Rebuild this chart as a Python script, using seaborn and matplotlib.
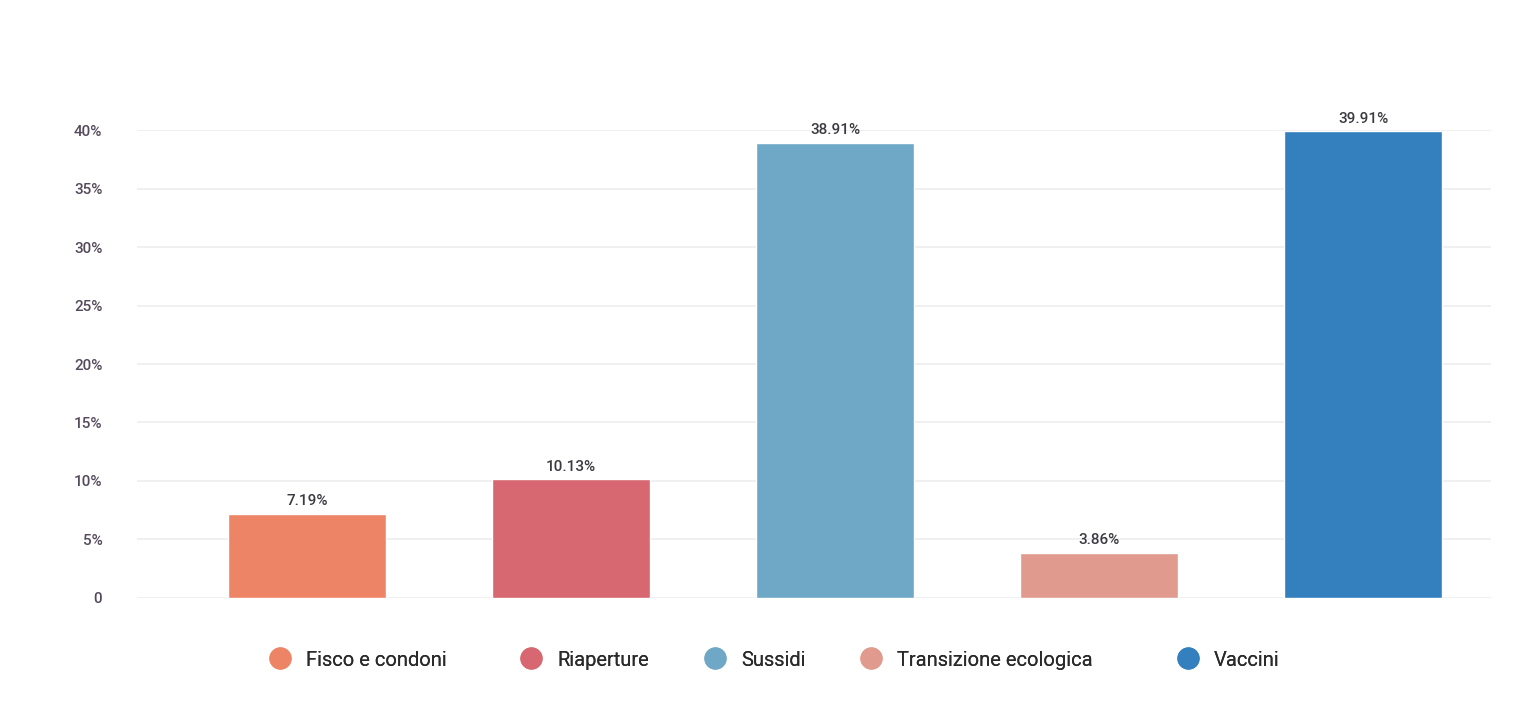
import pandas as pd
import seaborn as sns
import matplotlib.pyplot as plt
from matplotlib.lines import Line2D

categories = ['Fisco e condoni', 'Riaperture', 'Sussidi', 'Transizione ecologica', 'Vaccini']
values = [7.19, 10.13, 38.91, 3.86, 39.91]
colors = ['#ee8466', '#d76871', '#6fa8c6', '#e09a8e', '#347fbd']
yticks = [0, 5, 10, 15, 20, 25, 30, 35, 40]
ytick_labels = ['0', '5%', '10%', '15%', '20%', '25%', '30%', '35%', '40%']
# legend marker centres, in pixels from the left
legend_x = [280, 531, 715, 871, 1188]

df = pd.DataFrame({'cat': categories, 'val': values})

sns.set_style('white')
plt.rcParams['font.family'] = ['Roboto', 'DejaVu Sans']

W, H = 1534, 728
fig = plt.figure(figsize=(W / 100, H / 100), dpi=100)
ax = fig.add_axes([0.0893, 0.1786, 0.8827, 0.6428])

sns.barplot(data=df, x='cat', y='val', hue='cat', palette=colors, width=0.6,
            dodge=False, legend=False, saturation=1, ax=ax)

for c in ax.containers:
    ax.bar_label(c, fmt='%.2f%%', padding=4, fontsize=11, color='#3a3a40',
                 fontweight='medium')

ax.set_ylim(0, 40)
ax.set_xlim(-0.644, 4.485)
ax.set_yticks(yticks)
ax.set_yticklabels(ytick_labels, fontsize=11, color='#554a5c', fontweight='medium')
ax.set_xticks([])
ax.set_xlabel('')
ax.set_ylabel('')
ax.tick_params(axis='y', length=0, pad=25)
ax.grid(axis='y', color='#ededf0', linewidth=1.2)
ax.set_axisbelow(True)
sns.despine(ax=ax, left=True, bottom=True)
for t in ax.texts:
    t.set_clip_on(False)

fs = 14.5
hl = 1.0
for name, col, mx in zip(categories, colors, legend_x):
    h = Line2D([], [], marker='o', linestyle='', markersize=15,
               markerfacecolor=col, markeredgecolor=col)
    x0 = (mx - hl * fs / 2 * 100 / 72) / W
    leg = fig.legend([h], [name], loc='center left', bbox_to_anchor=(x0, 1 - 660 / H),
                     frameon=False, fontsize=fs, handlelength=hl, handletextpad=0.8,
                     borderpad=0, borderaxespad=0, labelcolor='#2a2a2a')
    fig.add_artist(leg)

plt.savefig('out.png', dpi=100)
